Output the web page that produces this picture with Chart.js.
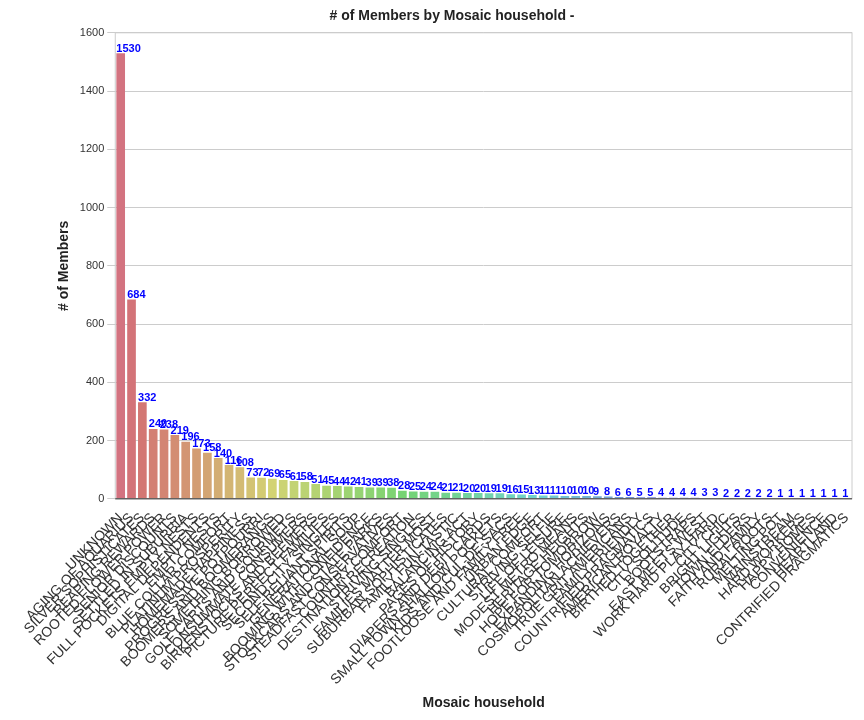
<!DOCTYPE html>
<html>
<head>
<meta charset="utf-8">
<script src="https://cdn.jsdelivr.net/npm/chart.js@4.4.0/dist/chart.umd.min.js"></script>
<style>
  body { margin: 0; background: #fff; }
  #wrap { width: 864px; height: 720px; }
</style>
</head>
<body>
<div id="wrap"><canvas id="chartCanvas"></canvas></div>
<script>
const households = [
  'UNKNOWN', 'AGING OF AQUARIUS', 'SILVER SOPHISTICATES', 'REAPING REWARDS', 'ROOTED FLOWER POWER',
  'SENIOR DISCOUNTS', 'SETTLED IN SUBURBIA', 'FULL POCKETS EMPTY NESTS', 'DIGITAL DEPENDENTS', 'EMPTY NESTS',
  'BLUE COLLAR COMFORT', 'PLATINUM PROSPERITY', 'HOMEMADE HAPPINESS', 'PROGRESSIVE POTPOURRI', 'BOOMERS AND BOOMERANGS',
  'SOMETHING BORROWED', 'GOLF CARTS AND GOURMETS', 'CONSUMMATE CONSUMERS', 'BIRKENSTOCKS AND BEEMERS', 'PICTURE PERFECT FAMILIES',
  'SECOND CITY SINGLES', 'SELF-RELIANT SPIRITS', 'GENERATIONAL SOUP', 'BOOMING WITH CONFIDENCE', 'STOCKCARS AND STATE PARKS',
  'STEADFAST CONSERVATIVES', 'COUNTRY COMFORT', 'DESTINATION RECREATION', 'STRIVING SINGLES', 'FAMILIES MATTER MOST',
  'SUBURBAN SOPHISTICATES', 'FAMILY FUN-TASTIC', 'BALANCING ACT', 'PAGES OF HISTORY', 'DIAPERS AND DEBIT CARDS',
  'SMALL TOWN SHALLOW POCKETS', 'KIDS AND CUL-DE-SACS', 'FOOTLOOSE AND FAMILY FREE', 'URBAN EDGE', 'CULTURAL COMFORT',
  'STRIVING SELFIE', 'LIFE OF LEISURE', 'MODEST METRO MEANS', 'HERITAGE HEIGHTS', 'HOPE FOR TOMORROW',
  'EXPANDING HORIZONS', 'COSMOPOLITAN ACHIEVERS', 'TRUE GRIT AMERICANS', 'FAMILY FRIENDLY', 'COUNTRIFIED PRAGMATICS',
  'AMERICAN ROYALTY', 'BIRTHED TOGETHER', 'CITY SOLITUDE', 'BOOTSTRAPS', 'EAST MEETS WEST',
  'WORK HARD PLAY HARD', 'CITY CHIC', 'BRIGHT LIGHTS', 'TOWN ELDERS', 'FAITH AND FAMILY',
  'RURAL ROOTS', 'MELTING POT', 'MAINSTREAM', 'HARD WORKERS', 'HAPPY HOMES',
  'CONVENIENCE', 'HEARTLAND', 'CONTRIFIED PRAGMATICS'
];
const members = [
  1530, 684, 332, 240, 238, 219, 196, 173, 158, 140, 116, 108, 73, 72, 69, 65, 61, 58, 51, 45,
  44, 42, 41, 39, 39, 38, 28, 25, 24, 24, 21, 21, 20, 20, 19, 19, 16, 15, 13, 11,
  11, 10, 10, 10, 9, 8, 6, 6, 5, 5, 4, 4, 4, 4, 3, 3, 2, 2, 2, 2,
  2, 1, 1, 1, 1, 1, 1, 1
];
const yTicks = [0, 200, 400, 600, 800, 1000, 1200, 1400, 1600];

// husl-like palette across the bars
const colors = members.map((v, i) => {
  const h = (352 + i * 330 / members.length) % 360;
  return 'hsl(' + h.toFixed(0) + ', 52%, 64%)';
});

const valueLabels = {
  id: 'valueLabels',
  afterDatasetsDraw(chart) {
    const ctx = chart.ctx;
    const meta = chart.getDatasetMeta(0);
    ctx.save();
    ctx.fillStyle = '#0000ff';
    ctx.font = 'bold 11px "Liberation Sans", Arial, sans-serif';
    ctx.textAlign = 'left';
    ctx.textBaseline = 'bottom';
    meta.data.forEach((bar, i) => {
      ctx.fillText(String(members[i]), bar.x - bar.width / 2, bar.y + 1);
    });
    ctx.restore();
  }
};

const frame = {
  id: 'frame',
  afterDraw(chart) {
    const a = chart.chartArea;
    const ctx = chart.ctx;
    ctx.save();
    ctx.strokeStyle = '#cccccc';
    ctx.lineWidth = 1;
    ctx.strokeRect(a.left, a.top, a.right - a.left, a.bottom - a.top);
    ctx.strokeStyle = '#333333';
    ctx.beginPath();
    ctx.moveTo(a.left, a.bottom);
    ctx.lineTo(a.right, a.bottom);
    ctx.stroke();
    ctx.restore();
  }
};

let ctx1 = document.querySelector('#chartCanvas');

let graph1 = new Chart(ctx1, {
  type: 'bar',
  data: {
    labels: households,
    datasets: [{
      data: members,
      backgroundColor: colors,
      categoryPercentage: 1.0,
      barPercentage: 0.8
    }]
  },
  options: {
    responsive: true,
    maintainAspectRatio: false,
    animation: false,
    layout: { padding: { left: 52, right: 12, top: 2, bottom: 4 } },
    plugins: {
      title: {
        display: true,
        text: '# of Members by Mosaic household -',
        color: '#222',
        font: { family: '"Liberation Sans", Arial, sans-serif', size: 14, weight: 'bold' },
        padding: { top: 6, bottom: 8 }
      },
      legend: { display: false },
      tooltip: { enabled: false }
    },
    scales: {
      x: {
        grid: { display: false },
        border: { display: false },
        ticks: {
          autoSkip: false,
          minRotation: 45,
          maxRotation: 45,
          color: '#333',
          font: { family: '"Liberation Sans", Arial, sans-serif', size: 14 }
        },
        title: {
          display: true,
          text: 'Mosaic household',
          color: '#222',
          font: { family: '"Liberation Sans", Arial, sans-serif', size: 14, weight: 'bold' }
        }
      },
      y: {
        min: 0,
        max: 1600,
        afterBuildTicks: (axis) => { axis.ticks = yTicks.map(v => ({ value: v })); },
        grid: { color: '#cccccc' },
        border: { display: false },
        ticks: {
          color: '#333',
          callback: (v) => String(v),
          font: { family: '"Liberation Sans", Arial, sans-serif', size: 11 }
        },
        title: {
          display: true,
          text: '# of Members',
          color: '#222',
          font: { family: '"Liberation Sans", Arial, sans-serif', size: 14, weight: 'bold' }
        }
      }
    }
  },
  plugins: [valueLabels, frame]
});
</script>
</body>
</html>
